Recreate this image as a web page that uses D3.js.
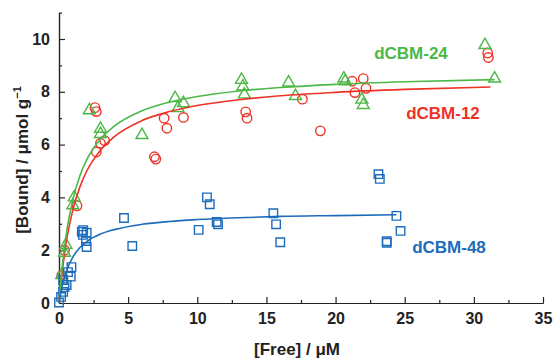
<!DOCTYPE html>
<html>
<head>
<meta charset="utf-8">
<script src="https://cdn.jsdelivr.net/npm/d3@7"></script>
<style>
  body { margin: 0; background: #fff; }
  svg text { font-family: Arial, "Liberation Sans", sans-serif; font-weight: bold; }
  .axis path, .axis line { stroke: #222; stroke-width: 1.2; }
  .axis text { fill: #222; font-size: 16px; font-weight: bold; }
</style>
</head>
<body>
<div id="box"></div>
<script>
// data points  [free, bound]
const dcbm24 = [
  [0.2, 1.06], [0.4, 1.9], [0.5, 2.2], [1.0, 3.7], [1.1, 4.0],
  [2.2, 7.3], [3.0, 6.6], [3.0, 6.4], [6.0, 6.36], [8.4, 7.76],
  [8.6, 7.38], [9.0, 7.57], [13.2, 8.45], [13.3, 8.2], [13.4, 7.9],
  [16.6, 8.35], [17.1, 7.84], [20.6, 8.5], [20.7, 8.4], [21.9, 7.7],
  [22.0, 7.5], [30.8, 9.77], [31.5, 8.5]
];
const dcbm12 = [
  [0.2, 1.05], [0.4, 2.0], [1.3, 3.68], [2.6, 7.4], [2.7, 7.25],
  [2.7, 5.72], [3.0, 6.05], [3.3, 6.15], [6.9, 5.54], [7.0, 5.45],
  [7.6, 7.0], [7.8, 6.62], [9.0, 7.03], [13.5, 7.24], [13.6, 7.0],
  [17.6, 7.72], [18.9, 6.52], [21.2, 8.4], [21.4, 7.97], [22.0, 8.5],
  [22.2, 8.13], [31.0, 9.47], [31.05, 9.3]
];
const dcbm48 = [
  [0.0, 0.02], [0.15, 0.23], [0.3, 0.42], [0.4, 0.6], [0.55, 0.68],
  [0.3, 0.87], [0.65, 1.17], [0.85, 1.0], [0.9, 1.36],
  [1.65, 2.7], [1.73, 2.58], [1.75, 2.76], [2.0, 2.66], [1.95, 2.35], [2.0, 2.12],
  [4.7, 3.22], [5.3, 2.16], [10.1, 2.77], [10.7, 4.0], [10.9, 3.74],
  [11.4, 3.07], [11.5, 2.98], [15.5, 3.4], [15.7, 2.98], [16.0, 2.3],
  [23.1, 4.88], [23.2, 4.7], [23.7, 2.28], [23.7, 2.34], [24.4, 3.3], [24.7, 2.73]
];

// fitted curves
const fit24 = [[0, 0], [0.15, 0.94], [0.5, 2.51], [1, 3.91], [1.5, 4.8], [2, 5.42], [3, 6.21],
  [4, 6.7], [6, 7.28], [8, 7.61], [10, 7.82], [13, 8.03], [16, 8.16], [20, 8.28], [25, 8.38], [31.5, 8.46]];
const fit12 = [[0, 0], [0.15, 0.81], [0.5, 2.22], [1, 3.52], [1.5, 4.38], [2, 4.99], [3, 5.79],
  [4, 6.3], [6, 6.91], [8, 7.25], [10, 7.48], [13, 7.7], [16, 7.85], [20, 7.98], [25, 8.09], [31.2, 8.18]];
const fit48 = [[0, 0], [0.25, 0.7], [0.5, 1.16], [1, 1.74], [1.5, 2.09], [2, 2.32], [3, 2.61],
  [4, 2.78], [6, 2.98], [8, 3.09], [10, 3.16], [13, 3.23], [16, 3.28], [20, 3.31], [24.4, 3.34]];

const xMajor = [0, 5, 10, 15, 20, 25, 30, 35];
const xMinor = [2.5, 7.5, 12.5, 17.5, 22.5, 27.5, 32.5];
const yMajor = [0, 2, 4, 6, 8, 10];
const yMinor = [1, 3, 5, 7, 9, 11];

const green = '#4cb847', red = '#ee3226', blue = '#1d6cbc';

const W = 555, H = 358;
const svg = d3.select('#box').append('svg')
    .attr('width', W)
    .attr('height', H);

const x = d3.scaleLinear().domain([0, 35]).range([59, 543]);
const y = d3.scaleLinear().domain([0, 11]).range([303, 12.6]);

// axes, ticks point inward
svg.append('g').attr('class', 'axis')
    .attr('transform', 'translate(0,303)')
    .call(d3.axisBottom(x).tickValues(xMinor).tickSize(-3).tickSizeOuter(0).tickFormat(''));
svg.append('g').attr('class', 'axis')
    .attr('transform', 'translate(0,303)')
    .call(d3.axisBottom(x).tickValues(xMajor).tickSize(-6).tickSizeOuter(0).tickPadding(10));

svg.append('g').attr('class', 'axis')
    .attr('transform', 'translate(59,0)')
    .call(d3.axisLeft(y).tickValues(yMinor).tickSize(-3).tickSizeOuter(0).tickFormat(''));
svg.append('g').attr('class', 'axis')
    .attr('transform', 'translate(59,0)')
    .call(d3.axisLeft(y).tickValues(yMajor).tickSize(-6).tickSizeOuter(0).tickPadding(9));

svg.append('text')
    .attr('x', 297)
    .attr('y', 355)
    .attr('text-anchor', 'middle')
    .attr('font-size', '17px')
    .attr('fill', '#222')
    .text('[Free] / μM');

const ylab = svg.append('text')
    .attr('transform', 'translate(28,160) rotate(-90)')
    .attr('text-anchor', 'middle')
    .attr('font-size', '17px')
    .attr('fill', '#222');
ylab.append('tspan').text('[Bound] / μmol g');
ylab.append('tspan').attr('dy', -7).attr('font-size', '11px').text('−1');

const line = d3.line()
    .x(d => x(d[0]))
    .y(d => y(d[1]))
    .curve(d3.curveMonotoneX);

const series = [
  { pts: dcbm12, fit: fit12, color: red, shape: 'circle' },
  { pts: dcbm24, fit: fit24, color: green, shape: 'triangle' },
  { pts: dcbm48, fit: fit48, color: blue, shape: 'square' }
];

series.forEach(s => {
  const sym = s.shape === 'circle' ? d3.symbolCircle
    : s.shape === 'triangle' ? d3.symbolTriangle : d3.symbolSquare;
  const size = s.shape === 'circle' ? 70 : s.shape === 'triangle' ? 62 : 72;
  svg.append('g').selectAll('path')
    .data(s.pts)
    .join('path')
    .attr('transform', d => `translate(${x(d[0])},${y(d[1])})`)
    .attr('d', d3.symbol().type(sym).size(size))
    .attr('fill', 'none')
    .attr('stroke', s.color)
    .attr('stroke-width', 1.4);
});

series.forEach(s => {
  svg.append('path')
    .datum(s.fit)
    .attr('d', line)
    .attr('fill', 'none')
    .attr('stroke', s.color)
    .attr('stroke-width', 1.6);
});

// series labels
svg.append('text').attr('x', 411).attr('y', 59).attr('text-anchor', 'middle')
    .attr('font-size', '17px').attr('fill', green).text('dCBM-24');
svg.append('text').attr('x', 443).attr('y', 119).attr('text-anchor', 'middle')
    .attr('font-size', '17px').attr('fill', red).text('dCBM-12');
svg.append('text').attr('x', 449).attr('y', 253).attr('text-anchor', 'middle')
    .attr('font-size', '17px').attr('fill', blue).text('dCBM-48');
</script>
</body>
</html>
